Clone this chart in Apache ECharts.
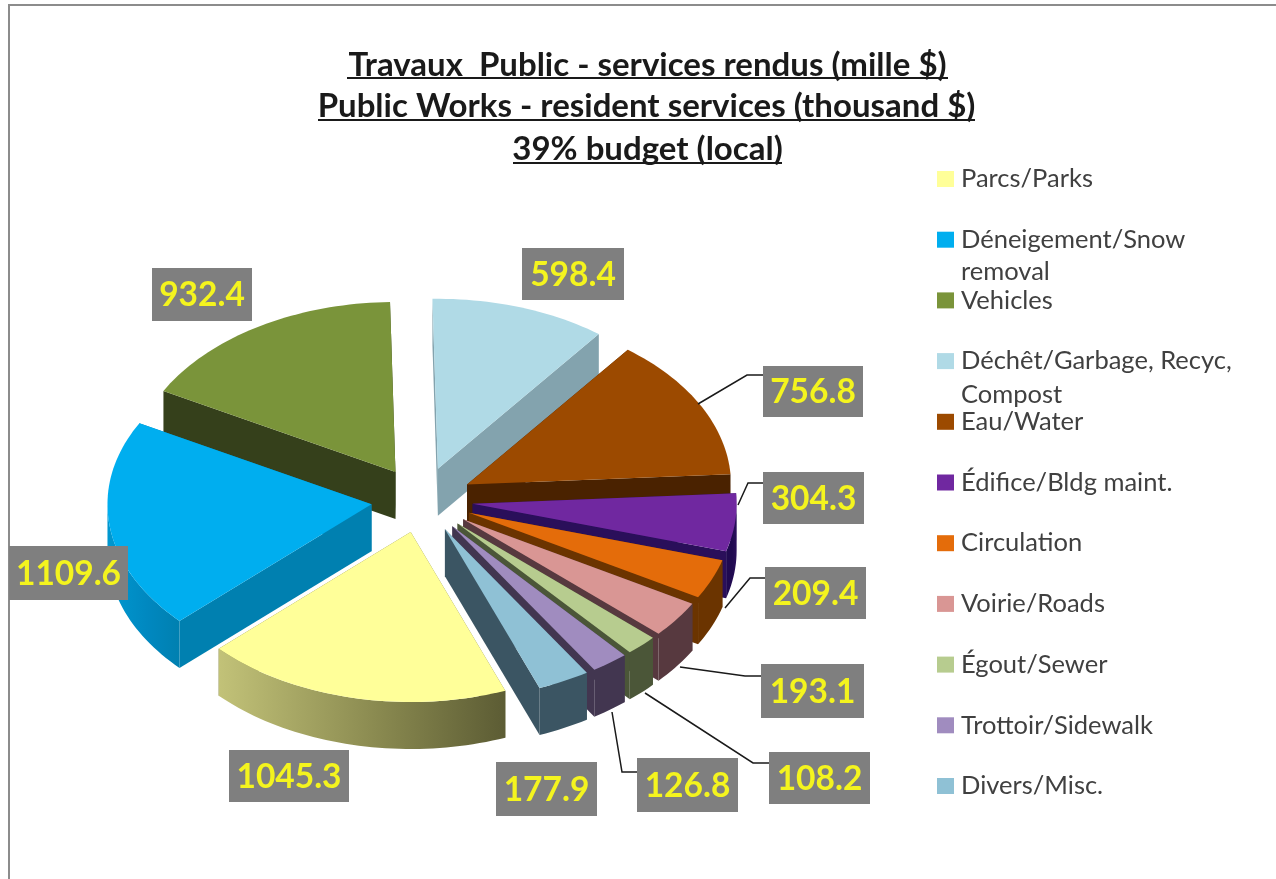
<!DOCTYPE html>
<html><head><meta charset="utf-8">
<style>html,body{margin:0;padding:0;background:#fff}#c{width:1276px;height:879px}</style>
<script src="https://cdn.jsdelivr.net/npm/echarts@6/dist/echarts.min.js"></script>
</head><body><div id="c"></div>
<script>
const categories = ['Parcs/Parks','Déneigement/Snow removal','Vehicles','Déchêt/Garbage, Recyc, Compost','Eau/Water','Édifice/Bldg maint.','Circulation','Voirie/Roads','Égout/Sewer','Trottoir/Sidewalk','Divers/Misc.'];
const values = [1045.3,1109.6,932.4,598.4,756.8,304.3,209.4,193.1,108.2,126.8,177.9];
const topColors = ['#FFFF99','#00AEEF','#7A943A','#B0DAE6','#9C4A00','#7028A0','#E46C0A','#D99694','#B7CC8F','#A08CBF','#8FC1D5'];
const wallColors = ['#6F6F40','#0080B0','#35401B','#83A3AE','#4A2200','#2A0F5A','#6B3400','#57393F','#4B5638','#423650','#3B5563'];
const arcColors = [['#C2C278','#8A8A50','#5C5C34'],['#0098D0','#0088C0','#0080B0'],['#35401B','#35401B','#35401B'],['#83A3AE','#83A3AE','#83A3AE'],['#4A2200','#4A2200','#4A2200'],['#2A0F5A','#200A50','#200A50'],['#6B3400','#6B3400','#6B3400'],['#57393F','#57393F','#57393F'],['#4B5638','#4B5638','#4B5638'],['#423650','#423650','#423650'],['#3B5563','#3B5563','#3B5563']];
const labelBoxes = [[229,750,120,52],[9,546,119,54],[152,268,100,53],[522,248,102,52],[763,366,100,51],[763,472,101,52],[765,567,101,52],[761,664,103,54],[769,752,101,52],[637,758,101,54],[496,762,101,54]];
const leaders = [null,null,null,null,[[698,404],[747,375],[763,375]],[[738,505],[748,483],[763,483]],[[725,608],[750,578],[765,578]],[[680,667],[745,676],[761,676]],[[645,693],[753,763],[769,763]],[[612,712],[622,772],[637,772]],null];
const titleLines = ['Travaux  Public - services rendus (mille $)','Public Works - resident services (thousand $)','39% budget (local)'];
const titleRules = [[347,948,78],[318,975,120],[513,782,163]];
const titleY = [65,106,149];

const cx = 422, cy = 500, Rx = 264, Ry = 170, depth = 47, explode = 0.193, firstAngle = 159;
const total = values.reduce((a,b)=>a+b,0);
const rad = d => d*Math.PI/180;
let acc = firstAngle;
const slices = values.map(v => { const s = acc; acc += v/total*360; return {s, e:acc, m:(s+acc)/2}; });
const px = (a,ox,oy,r=1,dz=0) => [ox+r*Rx*Math.sin(rad(a)), oy-r*Ry*Math.cos(rad(a))+dz];
const arcPts = (a,b,ox,oy,dz=0) => { const n=Math.max(2,Math.ceil((b-a)/1.5)); const p=[]; for(let i=0;i<=n;i++) p.push(px(a+(b-a)*i/n,ox,oy,1,dz)); return p; };

function sliceItem(i){
  return function(){
    const {s,e,m} = slices[i];
    const ox = cx+explode*Rx*Math.sin(rad(m)), oy = cy-explode*Ry*Math.cos(rad(m));
    const kids = [];
    const wall = (a)=>{ const o=[ox,oy], t=px(a,ox,oy); kids.push({type:'polygon',shape:{points:[o,t,[t[0],t[1]+depth],[o[0],o[1]+depth]]},style:{fill:wallColors[i]}}); };
    wall(s); wall(e);
    const ranges=[[90,270],[450,630]];
    ranges.forEach(([lo,hi])=>{
      const a=Math.max(s,lo), b=Math.min(e,hi);
      if(b>a){
        const pts=arcPts(a,b,ox,oy).concat(arcPts(a,b,ox,oy,depth).reverse());
        const g=arcColors[i];
        kids.push({type:'polygon',shape:{points:pts},style:{fill:new echarts.graphic.LinearGradient(0,0,1,0,[{offset:0,color:g[i<=1?0:2]},{offset:.55,color:g[1]},{offset:1,color:g[i<=1?2:0]}])}});
      }
    });
    kids.push({type:'polygon',shape:{points:[[ox,oy]].concat(arcPts(s,e,ox,oy))},style:{fill:topColors[i]}});
    return {type:'group',children:kids};
  };
}

function labelItem(params){
  const i=params.dataIndex, [x,y,w,h]=labelBoxes[i], kids=[];
  if(leaders[i]) kids.push({type:'polyline',shape:{points:leaders[i]},style:{stroke:'#1a1a1a',lineWidth:1.5,fill:null}});
  kids.push({type:'rect',shape:{x,y,width:w,height:h},style:{fill:'#7F7F7F'}});
  kids.push({type:'text',style:{text:values[i].toFixed(1),x:x+w/2,y:y+h/2+1,align:'center',verticalAlign:'middle',fill:'#F4F41E',font:'bold 33.5px Lato'}});
  return {type:'group',children:kids};
}

const backToFront = slices.map((o,i)=>({i,k:Math.cos(rad(o.m))})).sort((a,b)=>b.k-a.k).map(o=>o.i);
const series = categories.map((name,i)=>({
  type:'custom',name,coordinateSystem:'none',silent:true,animation:false,
  z:2+backToFront.indexOf(i),
  itemStyle:{color:topColors[i]},
  data:[[values[i]]],renderItem:sliceItem(i)
}));
series.push({type:'custom',name:'valeurs',coordinateSystem:'none',silent:true,animation:false,z:40,data:values.map(v=>[v]),renderItem:labelItem});

const graphics = [
  {type:'polyline',shape:{points:[[9,879],[9,5],[1276,5]]},style:{stroke:'#8C8C8C',lineWidth:2,fill:null},silent:true}
];
titleLines.forEach((t,i)=>{
  graphics.push({type:'text',style:{text:t,x:(titleRules[i][0]+titleRules[i][1])/2,y:titleY[i],align:'center',verticalAlign:'middle',fill:'#1a1a1a',font:'bold 33px Lato'}});
  graphics.push({type:'line',shape:{x1:titleRules[i][0],y1:titleRules[i][2],x2:titleRules[i][1],y2:titleRules[i][2]},style:{stroke:'#1a1a1a',lineWidth:2}});
});
const legendFont={fontFamily:'Lato',fontSize:25.5,color:'#404040',lineHeight:20,padding:[0,0,0,2]};
graphics.push({type:'text',style:{text:'removal',x:961,y:272,verticalAlign:'middle',fill:'#404040',font:'25.5px Lato'}});
graphics.push({type:'text',style:{text:'Compost',x:961,y:395,verticalAlign:'middle',fill:'#404040',font:'25.5px Lato'}});

const chart = echarts.init(document.getElementById('c'),null,{renderer:'canvas'});
chart.setOption({
  animation:false,backgroundColor:'#fff',
  legend:{orient:'vertical',left:932,top:161,itemWidth:17,itemHeight:16,itemGap:34.7,icon:'rect',selectedMode:false,
    data:categories,textStyle:legendFont,
    formatter:n=>n==='Déneigement/Snow removal'?'Déneigement/Snow':n==='Déchêt/Garbage, Recyc, Compost'?'Déchêt/Garbage, Recyc,':n},
  graphic:graphics,
  series
});
</script></body></html>
